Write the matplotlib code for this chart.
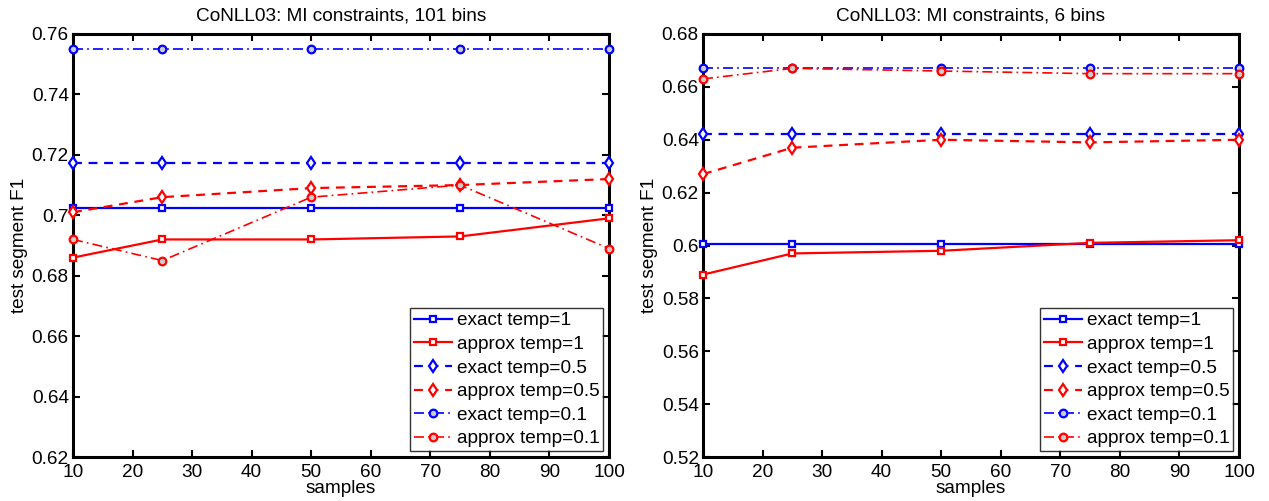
import matplotlib
matplotlib.use("Agg")
import matplotlib.pyplot as plt

plt.rcParams['font.family'] = ['Liberation Sans', 'DejaVu Sans']

samples = [10, 25, 50, 75, 100]

labels = ["exact temp=1", "approx temp=1", "exact temp=0.5",
          "approx temp=0.5", "exact temp=0.1", "approx temp=0.1"]

# Left panel: 101 bins
left_exact_t1 = [0.7023, 0.7023, 0.7023, 0.7023, 0.7023]
left_approx_t1 = [0.686, 0.692, 0.692, 0.693, 0.699]
left_exact_t05 = [0.7172, 0.7172, 0.7172, 0.7172, 0.7172]
left_approx_t05 = [0.701, 0.706, 0.709, 0.710, 0.712]
left_exact_t01 = [0.755, 0.755, 0.755, 0.755, 0.755]
left_approx_t01 = [0.692, 0.685, 0.706, 0.710, 0.689]

# Right panel: 6 bins
right_exact_t1 = [0.6005, 0.6005, 0.6005, 0.6005, 0.6005]
right_approx_t1 = [0.589, 0.597, 0.598, 0.601, 0.602]
right_exact_t05 = [0.6423, 0.6423, 0.6423, 0.6423, 0.6423]
right_approx_t05 = [0.627, 0.637, 0.640, 0.639, 0.640]
right_exact_t01 = [0.667, 0.667, 0.667, 0.667, 0.667]
right_approx_t01 = [0.663, 0.667, 0.666, 0.665, 0.665]

titles = ["CoNLL03: MI constraints, 101 bins", "CoNLL03: MI constraints, 6 bins"]
xticks = [10, 20, 30, 40, 50, 60, 70, 80, 90, 100]
left_yticks = [0.62, 0.64, 0.66, 0.68, 0.70, 0.72, 0.74, 0.76]
left_yticklabels = ["0.62", "0.64", "0.66", "0.68", "0.7", "0.72", "0.74", "0.76"]
right_yticks = [0.52, 0.54, 0.56, 0.58, 0.60, 0.62, 0.64, 0.66, 0.68]
right_yticklabels = ["0.52", "0.54", "0.56", "0.58", "0.6", "0.62", "0.64", "0.66", "0.68"]

styles = [
    dict(color='blue', ls='-', marker='s', mfc='white', ms=4.5),
    dict(color='red', ls='-', marker='s', mfc='white', ms=4.5),
    dict(color='blue', ls=(0, (4, 3)), marker='d', mfc='white', ms=6),
    dict(color='red', ls=(0, (4, 3)), marker='d', mfc='white', ms=6),
    dict(color='blue', ls=(0, (6, 2.5, 1, 2.5)), marker='o', mfc='#cccccc', ms=5.5),
    dict(color='red', ls=(0, (6, 2.5, 1, 2.5)), marker='o', mfc='#cccccc', ms=5.5),
]
lws = [1.6, 1.6, 1.6, 1.6, 1.2, 1.2]

fig = plt.figure(figsize=(12.69, 5.01), dpi=100)
W, H = 1269, 501
axL = fig.add_axes([73 / W, (H - 457) / H, 536 / W, 423 / H])
axR = fig.add_axes([703 / W, (H - 457) / H, 536 / W, 423 / H])

panels = [
    (axL, [left_exact_t1, left_approx_t1, left_exact_t05, left_approx_t05,
           left_exact_t01, left_approx_t01], (0.62, 0.76), left_yticks, left_yticklabels),
    (axR, [right_exact_t1, right_approx_t1, right_exact_t05, right_approx_t05,
           right_exact_t01, right_approx_t01], (0.52, 0.68), right_yticks, right_yticklabels),
]

fs = 13.7
for i, (ax, series, ylim, yt, ytl) in enumerate(panels):
    for s, lab, st, lw in zip(series, labels, styles, lws):
        ax.plot(samples, s, label=lab, color=st['color'], linestyle=st['ls'],
                linewidth=lw, marker=st['marker'], markersize=st['ms'],
                markerfacecolor=st['mfc'], markeredgecolor=st['color'],
                markeredgewidth=1.6, clip_on=False, zorder=3)
    ax.set_xlim(10, 100)
    ax.set_ylim(*ylim)
    ax.set_xticks(xticks)
    ax.set_xticklabels([str(x) for x in xticks], fontsize=fs)
    ax.set_yticks(yt)
    ax.set_yticklabels(ytl, fontsize=fs)
    ax.tick_params(direction='in', top=True, right=True, length=5, width=1.5)
    ax.tick_params(axis='x', pad=5)
    ax.tick_params(axis='y', pad=3)
    for sp in ax.spines.values():
        sp.set_linewidth(2.2)
    ax.set_title(titles[i], fontsize=fs, pad=10)
    ax.set_xlabel("samples", fontsize=fs, labelpad=-1)
    ax.set_ylabel("test segment F1", fontsize=fs, labelpad=3)
    leg = ax.legend(loc='lower right', fontsize=fs, frameon=True, fancybox=False,
                    edgecolor='black', borderpad=0.2, labelspacing=0.33,
                    handlelength=2.0, handletextpad=0.25, borderaxespad=0.3)
    leg.get_frame().set_linewidth(1.0)

fig.savefig("out.png", dpi=100)
